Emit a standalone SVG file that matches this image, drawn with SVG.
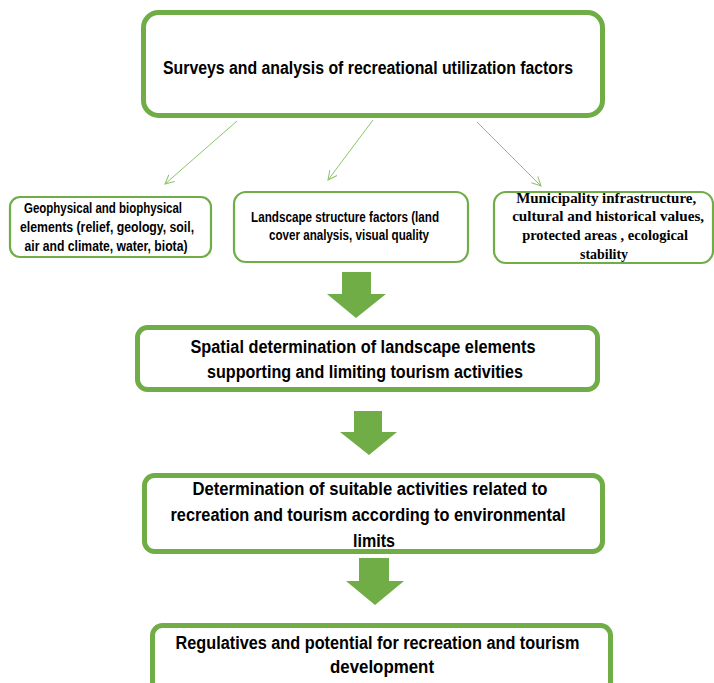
<svg xmlns="http://www.w3.org/2000/svg" width="714" height="683" viewBox="0 0 714 683">
<style>
.big{fill:#fff;stroke:#70AD47;stroke-width:5}
.small{fill:#fff;stroke:#70AD47;stroke-width:2.2}
.t{font-family:"Liberation Sans",Arial,sans-serif;font-weight:bold;fill:#000;text-anchor:middle}
.ts{font-family:"Liberation Serif","Times New Roman",serif;font-weight:bold;fill:#000;text-anchor:middle}
.conn{stroke:#8CC36A;stroke-width:1;fill:none}
.blk{fill:#70AD47}
</style>
<defs>
<marker id="ah" markerWidth="12" markerHeight="12" refX="10" refY="5" orient="auto" markerUnits="userSpaceOnUse">
<path d="M1,0.5 L10,5 L1,9.5" fill="none" stroke="#8CC36A" stroke-width="1"/>
</marker>
</defs>
<rect width="714" height="683" fill="#fff"/>
<g id="connectors">
<line class="conn" x1="237" y1="121" x2="165" y2="184" marker-end="url(#ah)"/>
<line class="conn" x1="373" y1="120" x2="328" y2="180" marker-end="url(#ah)"/>
<line class="conn" x1="477" y1="122" x2="541" y2="186" marker-end="url(#ah)"/>
<polygon class="blk" points="342,272 371,272 371,294 386,294 356,318 327,294 342,294"/>
<polygon class="blk" points="354,411 382,411 382,432 397,432 369,455 340,432 354,432"/>
<polygon class="blk" points="359,558 389,558 389,581 404,581 375,605 346,581 359,581"/>
</g>
<g id="n1">
<rect class="big" x="143.5" y="12.5" width="459" height="103" rx="15"/>
<text class="t" x="368" y="74" font-size="18" textLength="410" lengthAdjust="spacingAndGlyphs">Surveys and analysis of recreational utilization factors</text>
</g>
<g id="n2">
<rect class="small" x="10" y="197" width="201" height="60" rx="10"/>
<text class="t" font-size="14">
<tspan x="105" y="213" textLength="158" lengthAdjust="spacingAndGlyphs">Geophysical and biophysical</tspan>
<tspan x="109" y="232" textLength="174" lengthAdjust="spacingAndGlyphs">elements (relief, geology, soil,</tspan>
<tspan x="106" y="251" textLength="163" lengthAdjust="spacingAndGlyphs">air and climate, water, biota)</tspan>
</text>
</g>
<g id="n3">
<rect class="small" x="234" y="192" width="234" height="70" rx="12"/>
<text class="t" font-size="14">
<tspan x="347" y="222" textLength="188" lengthAdjust="spacingAndGlyphs">Landscape structure factors (land</tspan>
<tspan x="349" y="240" textLength="160" lengthAdjust="spacingAndGlyphs">cover analysis, visual quality</tspan>
</text>
</g>
<g id="n4">
<rect class="small" x="494" y="192" width="219" height="71" rx="12"/>
<text class="ts" font-size="15">
<tspan x="608" y="203" textLength="180" lengthAdjust="spacingAndGlyphs">Municipality infrastructure,</tspan>
<tspan x="610" y="221" textLength="192" lengthAdjust="spacingAndGlyphs">cultural and historical values,</tspan>
<tspan x="607" y="240" textLength="166" lengthAdjust="spacingAndGlyphs">protected areas , ecological</tspan>
<tspan x="604" y="259" textLength="48" lengthAdjust="spacingAndGlyphs">stability</tspan>
</text>
</g>
<g id="n5">
<rect class="big" x="137.5" y="327.5" width="460" height="62" rx="10"/>
<text class="t" font-size="18">
<tspan x="365.5" y="353" textLength="345" lengthAdjust="spacingAndGlyphs">Spatial determination of landscape elements</tspan>
<tspan x="365" y="378" textLength="316" lengthAdjust="spacingAndGlyphs">supporting and limiting tourism activities</tspan>
</text>
</g>
<g id="n6">
<rect class="big" x="144.5" y="475.5" width="458" height="76" rx="10"/>
<text class="t" font-size="18">
<tspan x="372.5" y="495" textLength="355" lengthAdjust="spacingAndGlyphs">Determination of suitable activities related to</tspan>
<tspan x="370.5" y="521" textLength="395" lengthAdjust="spacingAndGlyphs">recreation and tourism according to environmental</tspan>
<tspan x="374" y="547" textLength="42" lengthAdjust="spacingAndGlyphs">limits</tspan>
</text>
</g>
<g id="n7">
<rect class="big" x="152.5" y="625.5" width="458" height="70" rx="10"/>
<text class="t" font-size="18">
<tspan x="380" y="649" textLength="404" lengthAdjust="spacingAndGlyphs">Regulatives and potential for recreation and tourism</tspan>
<tspan x="382" y="673" textLength="104" lengthAdjust="spacingAndGlyphs">development</tspan>
</text>
</g>
</svg>
